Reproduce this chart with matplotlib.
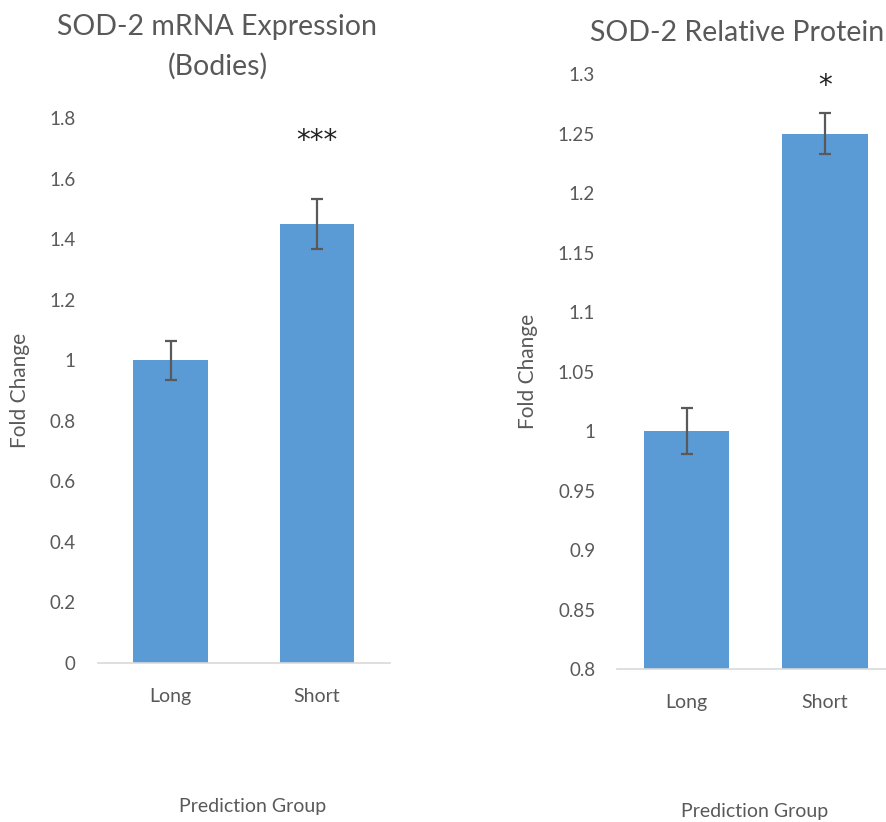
import matplotlib
matplotlib.use("Agg")
import matplotlib.pyplot as plt
from matplotlib.ticker import FuncFormatter

plt.rcParams['font.family'] = ['Lato', 'DejaVu Sans']

# data
groups = ["Long", "Short"]
mrna_values = [1.0, 1.45]
mrna_errors = [0.065, 0.082]
mrna_ticks = [0, 0.2, 0.4, 0.6, 0.8, 1.0, 1.2, 1.4, 1.6, 1.8]
protein_values = [1.0, 1.25]
protein_errors = [0.019, 0.017]
protein_ticks = [0.8, 0.85, 0.9, 0.95, 1.0, 1.05, 1.1, 1.15, 1.2, 1.25, 1.3]
mrna_sig = "***"
protein_sig = "*"

BAR = "#5b9bd5"
TXT = "#595959"
AXL = "#d9d9d9"

fig = plt.figure(figsize=(8.87, 8.22), dpi=100)
ax1 = fig.add_axes([0.1101, 0.1934, 0.3296, 0.663])
ax2 = fig.add_axes([0.696, 0.1861, 0.312, 0.7238])

fmt = FuncFormatter(lambda v, p: f"{v:g}")


def style(ax, ticks, width, values, errors, sig, sig_y):
    x = range(len(groups))
    ax.bar(x, [v - ticks[0] for v in values], bottom=ticks[0], width=width,
           color=BAR, zorder=2)
    ax.errorbar(x, values, yerr=errors, fmt="none", ecolor=TXT,
                elinewidth=1.6, capsize=4.5, capthick=1.6, zorder=3)
    ax.set_xlim(-0.5, 1.5)
    ax.set_ylim(ticks[0], ticks[-1])
    ax.set_yticks(ticks)
    ax.yaxis.set_major_formatter(fmt)
    ax.set_xticks(list(x))
    ax.set_xticklabels(groups)
    for s in ["top", "right", "left"]:
        ax.spines[s].set_visible(False)
    ax.spines["bottom"].set_color(AXL)
    ax.spines["bottom"].set_linewidth(1.2)
    ax.tick_params(axis="both", length=0, colors=TXT, labelsize=13.5)
    ax.tick_params(axis="x", pad=18, labelsize=14)
    ax.tick_params(axis="y", pad=16)
    ax.text(1, sig_y, sig, ha="center", va="center", fontsize=20,
            color="#222222", family="DejaVu Sans")
    ax.set_ylabel("Fold Change", fontsize=15, color=TXT)


style(ax1, mrna_ticks, 0.51, mrna_values, mrna_errors, mrna_sig, 1.725)
style(ax2, protein_ticks, 0.62, protein_values, protein_errors, protein_sig, 1.29)
ax1.yaxis.set_label_coords(-0.23, 0.5)
ax2.yaxis.set_label_coords(-0.285, 0.5)

fig.text(0.245, 0.943, "SOD-2 mRNA Expression\n(Bodies)", ha="center", va="center",
         fontsize=20.5, color=TXT, linespacing=1.55)
fig.text(0.8315, 0.96, "SOD-2 Relative Protein", ha="center", va="center",
         fontsize=20.5, color=TXT)
fig.text(0.285, 0.009, "Prediction Group", ha="center", va="bottom",
         fontsize=14, color=TXT)
fig.text(0.851, 0.003, "Prediction Group", ha="center", va="bottom",
         fontsize=14, color=TXT)

fig.savefig("out.png", dpi=100)
